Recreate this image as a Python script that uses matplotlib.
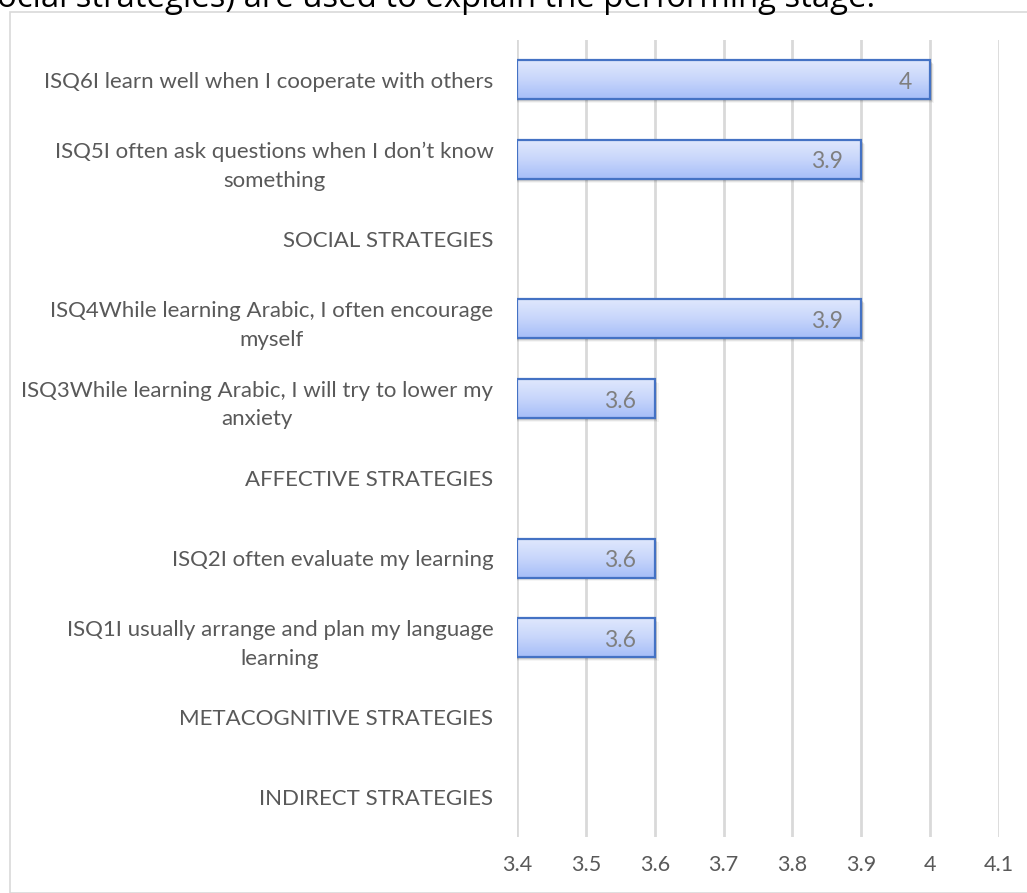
import numpy as np
import matplotlib
matplotlib.use("Agg")
import matplotlib.pyplot as plt
from matplotlib.patches import Rectangle
from matplotlib.colors import LinearSegmentedColormap

# Category labels listed top to bottom
categories = [
    "ISQ6I learn well when I cooperate with others",
    "ISQ5I often ask questions when I don\u2019t know\nsomething",
    "SOCIAL STRATEGIES",
    "ISQ4While learning Arabic, I often encourage\nmyself",
    "ISQ3While learning Arabic, I will try to lower my\nanxiety",
    "AFFECTIVE STRATEGIES",
    "ISQ2I often evaluate my learning",
    "ISQ1I usually arrange and plan my language\nlearning",
    "METACOGNITIVE STRATEGIES",
    "INDIRECT STRATEGIES",
]
# Mean scores (None = heading row without a bar)
values = [4.0, 3.9, None, 3.9, 3.6, None, 3.6, 3.6, None, None]
value_labels = ["4", "3.9", None, "3.9", "3.6", None, "3.6", "3.6", None, None]
x_ticks = [3.4, 3.5, 3.6, 3.7, 3.8, 3.9, 4.0, 4.1]
x_tick_labels = ["3.4", "3.5", "3.6", "3.7", "3.8", "3.9", "4", "4.1"]
x_min = 3.4

FONT = "Lato"
TEXT_GRAY = "#595959"
GRID = "#d9d9d9"
EDGE = "#4472c4"

W, H = 1027, 893
fig = plt.figure(figsize=(W / 100, H / 100), dpi=100)

# Chart frame
frame = Rectangle((10 / W, 0), 1.5, 1 - 12 / H, transform=fig.transFigure,
                  fill=False, edgecolor=GRID, linewidth=1.2, zorder=0)
fig.patches.append(frame)

# Body text line running above the chart
fig.text(-3 / W, 1 - 7 / H, "ocial strategies) are used to explain the performing stage.",
         fontsize=23.7, family="Open Sans", color="black",
         ha="left", va="baseline")

ax = fig.add_axes([517 / W, 1 - 837 / H, 482 / W, 797 / H])
n = len(categories)
y = np.arange(n)

for s in ax.spines.values():
    s.set_visible(False)
ax.set_xticks(x_ticks)
ax.set_xticklabels(x_tick_labels)
ax.xaxis.grid(True, color=GRID, linewidth=2)
ax.set_axisbelow(True)
ax.tick_params(axis="x", length=0, pad=13, labelsize=15.5, labelcolor=TEXT_GRAY)
ax.set_yticks(y)
ax.set_yticklabels(categories)
ax.tick_params(axis="y", length=0, pad=17, labelsize=16, labelcolor=TEXT_GRAY)
for lbl in ax.get_yticklabels():
    lbl.set_multialignment("center")
    lbl.set_family(FONT)
    lbl.set_linespacing(1.55)
for lbl in ax.get_xticklabels():
    lbl.set_family(FONT)

cmap = LinearSegmentedColormap.from_list("barfill", ["#e1e9fd", "#c8d6fb", "#a5bdf8"])
grad = np.linspace(0, 1, 256).reshape(-1, 1)
bar_h = 0.49

for yi, v, lab in zip(y, values, value_labels):
    if v is None:
        continue
    # soft drop shadow
    for k, a in enumerate([0.10, 0.07, 0.04]):
        sh = Rectangle((x_min, yi - bar_h / 2 + 0.02 + 0.012 * k), v - x_min + 0.002 * (k + 1), bar_h,
                       facecolor="black", edgecolor="none", alpha=a, zorder=2)
        ax.add_patch(sh)
    rect = Rectangle((x_min, yi - bar_h / 2), v - x_min, bar_h,
                     facecolor="none", edgecolor=EDGE, linewidth=1.6, zorder=4)
    ax.add_patch(rect)
    im = ax.imshow(grad, cmap=cmap, aspect="auto", zorder=3,
                   extent=(x_min, v, yi + bar_h / 2, yi - bar_h / 2), interpolation="bicubic")
    im.set_clip_path(rect)
    ax.text(v - 0.027, yi + 0.03, lab, ha="right", va="center", fontsize=16.5,
            color="#7f7f7f", family=FONT, zorder=5)

ax.set_xlim(x_min, x_ticks[-1])
ax.set_ylim(n - 0.5, -0.5)

fig.savefig("out.png", dpi=100)
